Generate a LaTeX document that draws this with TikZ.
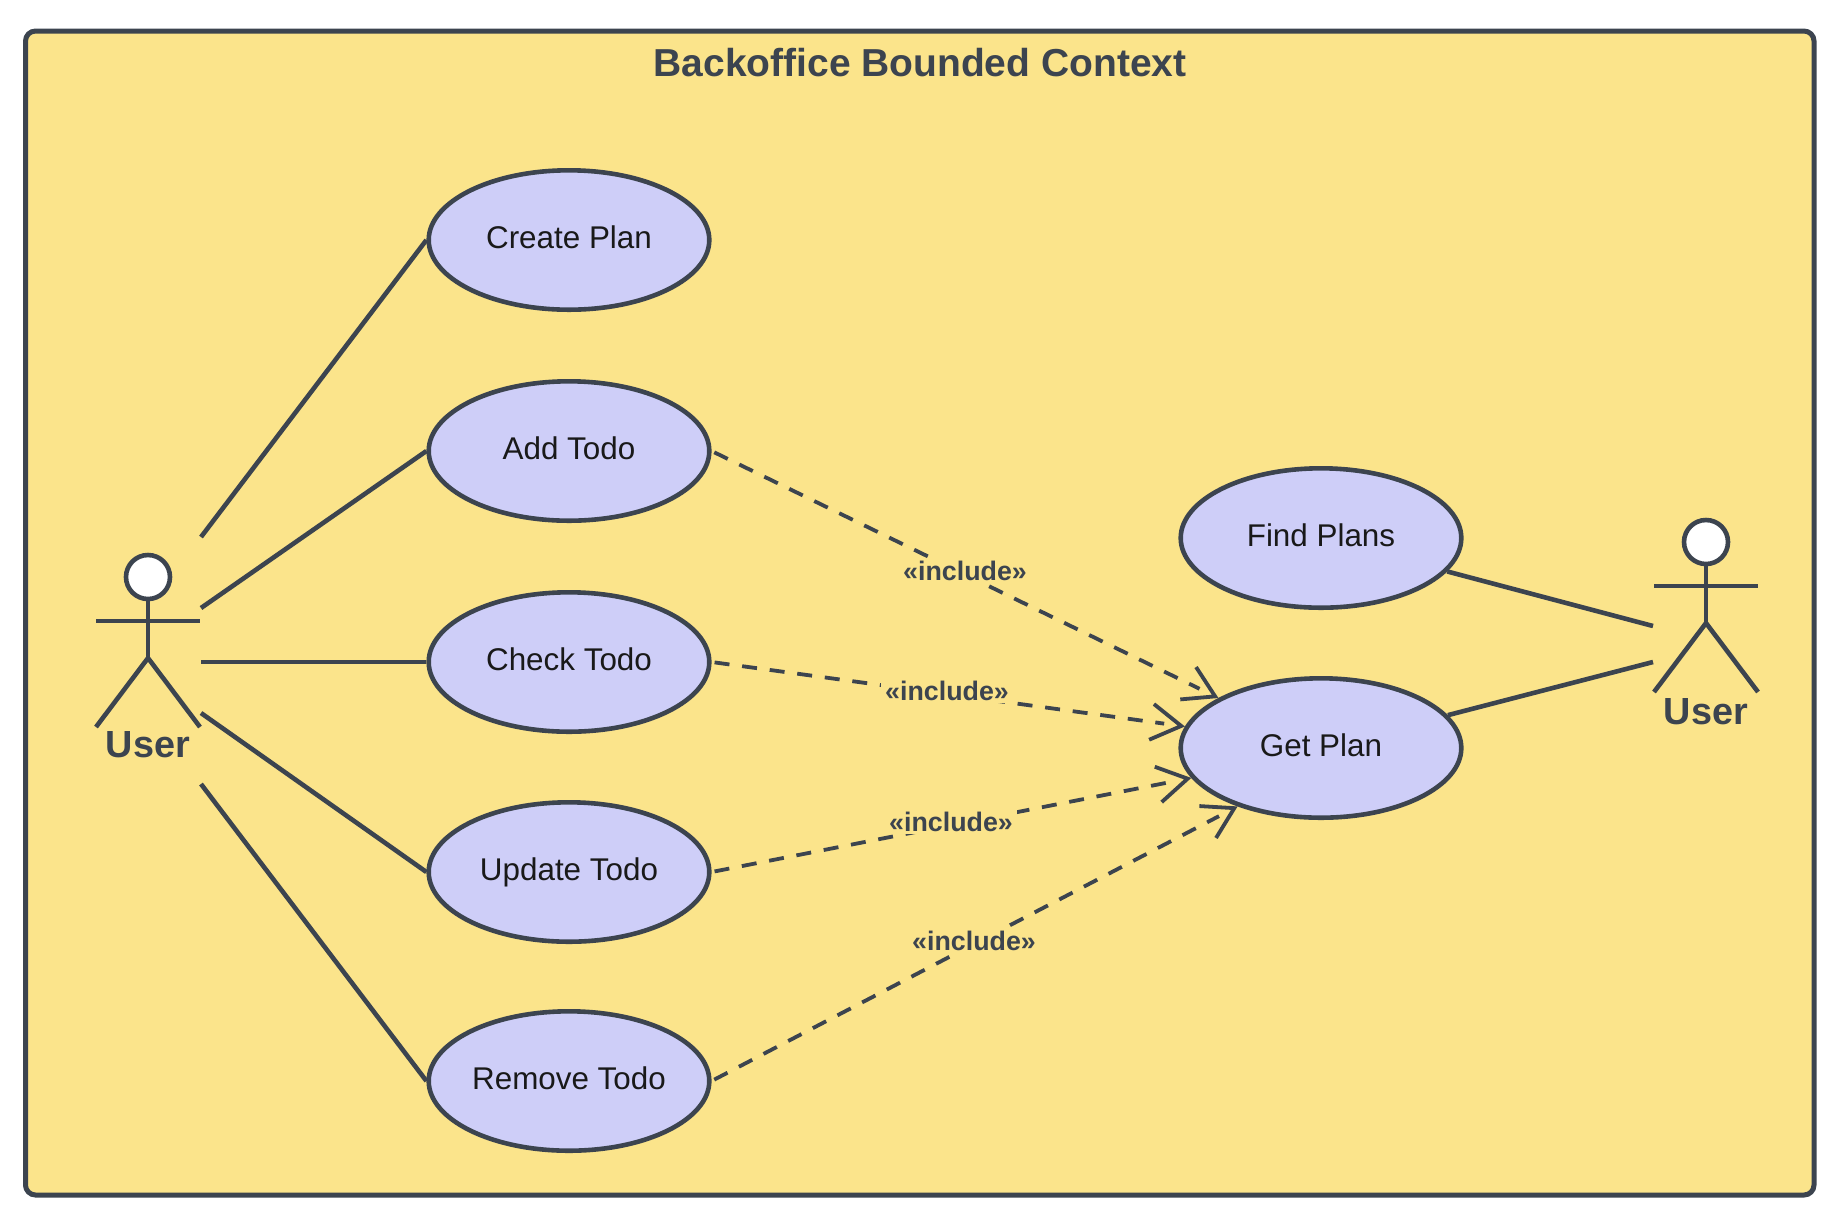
\documentclass[tikz,border=0pt]{standalone}
\usepackage{fontspec}
\setmainfont{Liberation Sans}
\usetikzlibrary{arrows.meta,shapes.geometric,decorations.markings}
\definecolor{ink}{RGB}{60,68,79}
\definecolor{board}{RGB}{251,228,139}
\definecolor{lilac}{RGB}{206,206,248}
\def\strokew{2.3pt}

\begin{document}
\begin{tikzpicture}[x=0.5pt,y=-0.5pt,line width=\strokew,draw=ink]
    \tikzstyle{usecase}=[ellipse,draw,fill=lilac,minimum width=140.3pt,minimum height=69.7pt,inner sep=0pt,text=black!90,text height=11.3pt,text depth=2.4pt,font=\fontsize{15.7}{18}\selectfont]
    \tikzstyle{head}=[circle,draw,fill=white,minimum size=22pt,inner sep=0pt]
    \tikzstyle{actor name}=[text=ink,font=\fontsize{18.9}{22}\selectfont\bfseries]
    \tikzstyle{inclabel}=[fill=board,inner xsep=2pt,inner ysep=1pt,text=ink,font=\fontsize{13.4}{16}\selectfont\bfseries]
    \tikzstyle{include}=[line width=1.9pt,dash pattern=on 7.5pt off 6.4pt,shorten <=1.5pt,shorten >=10.5pt,
        postaction={decorate,decoration={markings,mark=at position 1 with {\arrow{Straight Barb[length=15pt,width=18pt]}}}}]

    \useasboundingbox (0,0) rectangle (1846,1228);

    % Draw the boundary
    \node[draw,fill=board,rounded corners=5pt,line width=2.5pt,minimum width=894.25pt,minimum height=582pt,inner sep=0pt] (board) at (919.75,613) {};
    \node[text=ink,font=\fontsize{19.5}{23}\selectfont\bfseries] (title) at (920,63) {Backoffice Bounded Context};

    % Draw the use cases
    \foreach \name / \xx / \yy / \txt in {create/569/240/Create Plan,add/569/451/Add Todo,check/569/662/Check Todo,update/569/872/Update Todo,remove/569/1081/Remove Todo,find/1321/538/Find Plans,get/1321/748/Get Plan}
        \node[usecase] (\name) at (\xx,\yy) {\txt};

    % Draw the two actors
    \foreach \name / \hx / \hy / \ly in {L/148/577/168,R/1706/542/170} {
        \node[head] (H-\name) at (\hx,\hy) {};
        \coordinate (C-\name) at (\hx,\hy+81);
        \coordinate (AL-\name) at (\hx-52,\hy+44);
        \coordinate (AR-\name) at (\hx+52,\hy+44);
        \coordinate (FL-\name) at (\hx-52,\hy+150);
        \coordinate (FR-\name) at (\hx+52,\hy+150);
        \draw (H-\name) -- (C-\name);
        \draw (AL-\name) -- (AR-\name);
        \draw (FL-\name) -- (C-\name) -- (FR-\name);
        \node[actor name] (N-\name) at (\hx,\hy+\ly) {User};
    }

    % Connect the left actor with its use cases
    \foreach \dest / \yy in {create/537,add/608,check/662,update/713,remove/784} {
        \coordinate (S-\dest) at (201,\yy);
        \draw (S-\dest) -- (\dest.west);
    }

    % Connect the right actor with its use cases
    \coordinate (S-find) at (1653,626);
    \coordinate (S-get) at (1653,662);
    \draw (S-find) -- (find);
    \draw (S-get) -- (get);

    % Connect the includes with the target
    \draw[include] (add.east) -- (get.154);
    \draw[include] (check.east) -- (get.171);
    \draw[include] (update.east) -- (get.193);
    \draw[include] (remove.east) -- (get.215);

    % Annotate the includes
    \node[inclabel] (I-add) at (965,571) {«include»};
    \node[inclabel] (I-check) at (947,691) {«include»};
    \node[inclabel] (I-update) at (951,822) {«include»};
    \node[inclabel] (I-remove) at (974,941) {«include»};
\end{tikzpicture}
\end{document}
